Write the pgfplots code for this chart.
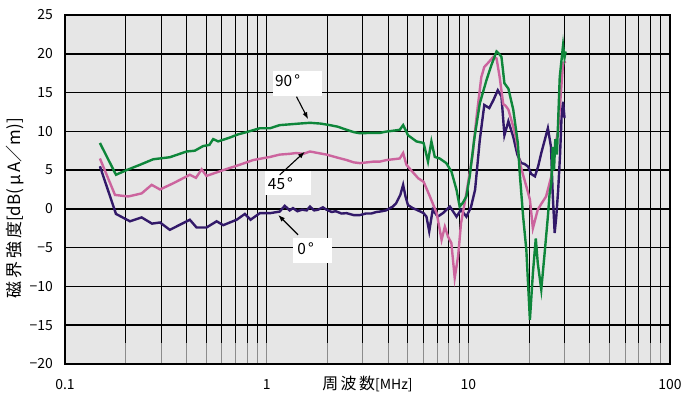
\documentclass[border=0pt]{standalone}
\usepackage{pgfplots}
\pgfplotsset{compat=1.18}
\usepackage{fontspec}
\setmainfont{Noto Sans CJK JP}
\usetikzlibrary{arrows.meta}
\definecolor{bggray}{RGB}{230,230,230}
\definecolor{cgreen}{RGB}{14,134,58}
\definecolor{cpink}{RGB}{204,100,158}
\definecolor{cpurple}{RGB}{50,25,105}
\begin{document}
\fontsize{14}{16}\selectfont
\begin{tikzpicture}
\useasboundingbox (-65bp,-32bp) rectangle (630bp,364bp);
\begin{axis}[
  at={(0,0)}, anchor=south west,
  scale only axis, width=605bp, height=349bp,
  xmode=log, xmin=0.1, xmax=100, ymin=-20, ymax=25,
  xtick={0.1,1,10,100}, xticklabels={0.1,1,10,100},
  ytick={-20,-15,...,25},
  yticklabels={−20,−15,−10,−5,0,5,10,15,20,25},
  xmajorgrids, xminorgrids, ymajorgrids,
  major grid style={black, line width=1.5bp},
  minor grid style={black, line width=0.9bp},
  tick align=inside, xtick pos=bottom, ytick pos=left,
  major tick length=0bp, minor tick length=21bp,
  xtick style={draw=black!45, line width=0.9bp},
  ytick style={draw=none},
  axis line style={black, line width=2bp},
  axis background/.style={fill=bggray},
  xticklabel style={anchor=north, inner sep=0pt, yshift=-15bp},
  yticklabel style={anchor=east, inner sep=0pt, xshift=-12bp},
  xlabel={{\fontsize{16}{18}\selectfont 周\hspace{2.5bp}波\hspace{2.5bp}数}[MHz]},
  xlabel style={at={(axis description cs:0.5,0)}, anchor=center, yshift=-20bp},
  ylabel={磁\hspace{3bp}界\hspace{3bp}強\hspace{3bp}度[dB(\,μ\,A／m)]},
  ylabel style={at={(axis description cs:0,0.446)}, anchor=center, rotate=0, yshift=50bp, font=\fontsize{17}{19}\selectfont},
  clip=true,
]
% 0 deg
\addplot[cpurple, line width=2.4bp] coordinates {
(0.149,5.5) (0.179,-0.65) (0.21,-1.6) (0.24,-1.1) (0.27,-1.9) (0.296,-1.75) (0.331,-2.7)
(0.416,-1.4) (0.449,-2.4) (0.503,-2.4) (0.565,-1.6) (0.609,-2.1) (0.71,-1.4) (0.78,-0.65)
(0.832,-1.4) (0.925,-0.55) (1.04,-0.55) (1.16,-0.35) (1.23,0.4) (1.30,-0.2) (1.35,0.1)
(1.42,-0.3) (1.5,-0.1) (1.58,-0.2) (1.64,0.3) (1.72,-0.2) (1.8,-0.1) (1.9,0.2) (1.98,-0.1)
(2.1,-0.4) (2.2,-0.3) (2.35,-0.6) (2.49,-0.55) (2.7,-0.8) (2.90,-0.8) (3.1,-0.6) (3.3,-0.6)
(3.5,-0.4) (3.64,-0.35) (3.9,-0.2) (4.22,0.3) (4.38,0.7) (4.6,1.8) (4.75,3.1) (4.88,1.6)
(5.02,0.5) (5.3,0.1) (5.53,-0.1) (6.0,-0.55) (6.2,-1.0) (6.4,-2.9) (6.66,-0.1) (7.05,-1.0)
(7.48,-0.55) (8.1,0.3) (8.74,-1.0) (9.2,-0.1) (9.78,-1.0) (10.3,0.2) (10.8,2.45) (11.4,8.9)
(12.0,13.4) (12.7,13.0) (13.3,14.0) (14.0,15.3) (14.6,14.5) (15.1,9.5) (15.8,11.3) (16.7,9.3)
(17.5,7.0) (18.3,5.9) (19.0,5.8) (19.8,5.45) (20.5,4.5) (21.4,4.2) (22.2,5.5) (23.0,7.2)
(24.0,9.0) (24.8,10.4) (25.7,8.0) (26.2,2.0) (26.8,-3.1) (27.3,-1.0) (27.9,2.45) (28.5,7.0)
(29.0,11.9) (29.5,13.8) (30.0,11.7)
};
% 45 deg
\addplot[cpink, line width=2.4bp] coordinates {
(0.149,6.5) (0.177,1.8) (0.206,1.6) (0.24,2.0) (0.269,3.1) (0.296,2.5) (0.344,3.3)
(0.416,4.4) (0.446,4.0) (0.476,5.1) (0.503,4.25) (0.609,5.0) (0.737,5.7) (0.858,6.3)
(1.04,6.7) (1.16,7.0) (1.3,7.1) (1.4,7.2) (1.52,7.1) (1.64,7.4) (1.8,7.2) (1.98,7.0)
(2.25,6.6) (2.49,6.3) (2.7,6.0) (2.90,5.9) (3.15,6.0) (3.4,6.1) (3.65,6.1) (3.93,6.3)
(4.25,6.4) (4.57,6.5) (4.75,7.2) (4.93,5.7) (5.02,5.45) (5.64,3.95) (6.0,3.5) (6.45,1.6)
(6.97,-0.55) (7.37,-4.0) (7.65,-2.3) (7.94,-3.6) (8.24,-4.4) (8.56,-8.9) (8.9,-6.1)
(9.2,-1.85) (9.78,2.0) (10.5,7.0) (11.0,12.0) (11.6,17.0) (12.0,18.3) (12.5,18.8)
(13.3,19.6) (13.8,19.4) (14.3,17.0) (14.9,13.5) (15.3,13.3) (15.8,12.8) (16.7,10.6)
(17.3,8.9) (18.0,5.9) (19.4,2.9) (20.2,1.2) (20.9,-2.5) (22.1,-0.1) (23.2,0.8) (24.3,1.6)
(25.8,4.2) (26.8,7.6) (27.9,10.2) (28.7,14.5) (29.5,18.8) (30.4,19.0)
};
% 90 deg
\addplot[cgreen, line width=2.4bp] coordinates {
(0.149,8.5) (0.179,4.4) (0.202,5.0) (0.236,5.7) (0.274,6.4) (0.331,6.66) (0.401,7.4)
(0.44,7.5) (0.484,8.1) (0.52,8.25) (0.543,9.0) (0.575,8.7) (0.657,9.2) (0.72,9.6)
(0.795,9.9) (0.925,10.4) (1.04,10.4) (1.16,10.8) (1.3,10.9) (1.45,11.0) (1.64,11.1)
(1.85,11.0) (2.06,10.8) (2.25,10.6) (2.49,10.2) (2.7,9.9) (2.90,9.75) (3.3,9.8)
(3.64,9.8) (3.93,9.97) (4.3,10.1) (4.57,10.2) (4.75,10.8) (4.93,9.96) (5.02,9.5)
(5.53,8.7) (6.0,8.5) (6.31,6.1) (6.56,8.7) (6.82,6.7) (7.21,6.5) (7.78,5.9) (8.25,4.8)
(8.74,2.45) (9.06,0.3) (9.4,0.8) (9.78,1.6) (10.16,4.2) (10.7,9.0) (11.4,13.6)
(12.3,16.6) (13.0,18.5) (13.8,20.3) (14.2,20.0) (14.6,19.6) (15.1,16.2) (15.8,15.5)
(16.7,12.8) (17.6,8.5) (18.0,4.5) (18.7,-1.0) (19.4,-5.3) (20.2,-14.3) (20.9,-8.3)
(21.6,-3.8) (22.1,-7.0) (23.0,-10.4) (23.9,-5.7) (24.8,-1.0) (25.3,2.0) (25.8,3.3)
(26.2,8.0) (26.6,5.0) (27.0,9.0) (27.5,7.0) (28.4,17.0) (29.5,21.1) (30.0,19.5) (30.4,20.3)
};
% labels
\fill[white] (axis cs:1.077,17.8) rectangle (axis cs:1.891,14.5);
\node[anchor=center, inner sep=0pt, font=\fontsize{15.5}{17}\selectfont] at (axis cs:1.27,16.5) {90\hspace{2bp}°};
\fill[white] (axis cs:0.98,4.94) rectangle (axis cs:1.654,1.8);
\node[anchor=center, inner sep=0pt, font=\fontsize{15.5}{17}\selectfont] at (axis cs:1.17,3.3) {45\hspace{2bp}°};
\fill[white] (axis cs:1.353,-3.78) rectangle (axis cs:2.107,-7.0);
\node[anchor=center, inner sep=0pt, font=\fontsize{15.5}{17}\selectfont] at (axis cs:1.56,-5.1) {0\hspace{2bp}°};
\draw[-{Latex[length=7bp,width=5bp]}, line width=1.1bp] (axis cs:1.406,14.47) -- (axis cs:1.606,11.56);
\draw[-{Latex[length=7bp,width=5bp]}, line width=1.1bp] (axis cs:1.16,4.38) -- (axis cs:1.547,7.38);
\draw[-{Latex[length=7bp,width=5bp]}, line width=1.1bp] (axis cs:1.432,-3.35) -- (axis cs:1.14,-0.77);
\end{axis}
\end{tikzpicture}
\end{document}
